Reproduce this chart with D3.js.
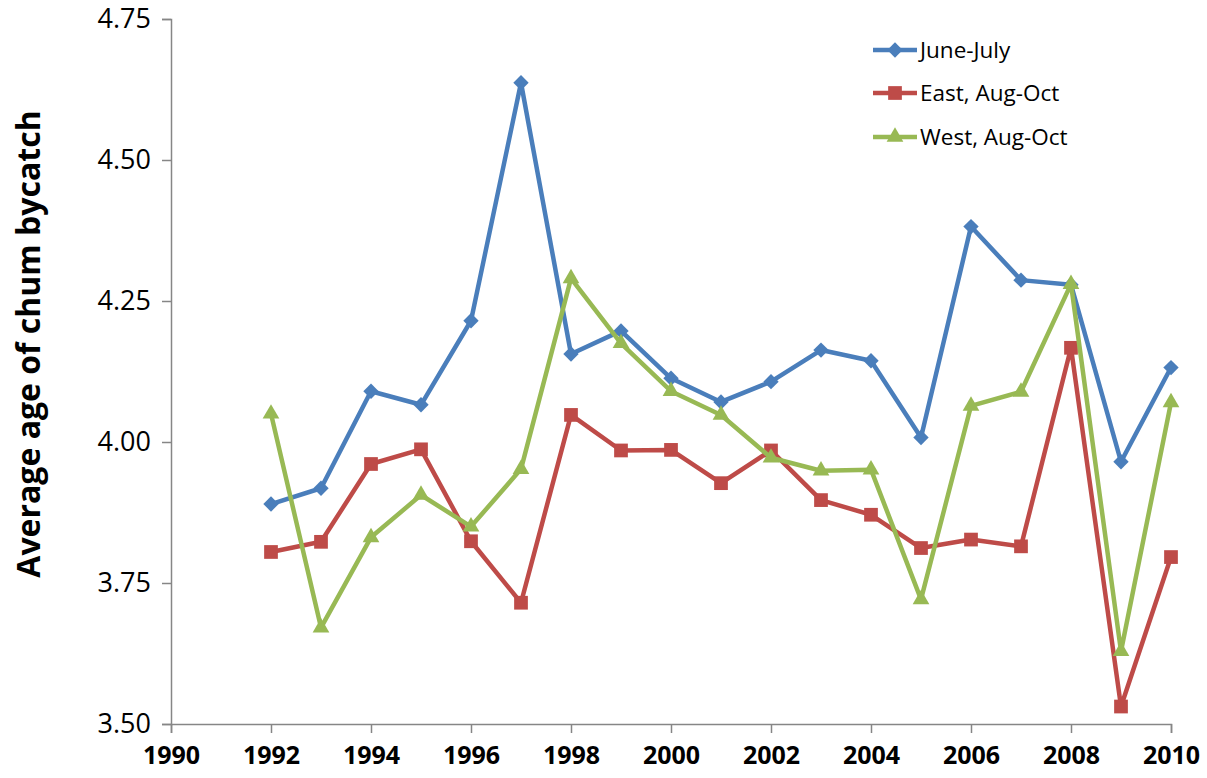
<!DOCTYPE html>
<html><head><meta charset="utf-8">
<script src="https://cdn.jsdelivr.net/npm/d3@7"></script>
<style>body{margin:0;background:#fff}svg{display:block}</style>
</head><body>
<svg id="chart" width="1207" height="778"></svg>
<script>
const years = [1992,1993,1994,1995,1996,1997,1998,1999,2000,2001,2002,2003,2004,2005,2006,2007,2008,2009,2010];
const juneJuly = [3.890,3.918,4.090,4.066,4.215,4.637,4.156,4.197,4.113,4.071,4.107,4.163,4.144,4.008,4.382,4.287,4.279,3.965,4.132];
const eastAugOct = [3.805,3.823,3.961,3.987,3.824,3.715,4.048,3.985,3.986,3.927,3.985,3.897,3.871,3.812,3.827,3.815,4.167,3.531,3.796];
const westAugOct = [4.050,3.671,3.831,3.906,3.850,3.952,4.290,4.175,4.090,4.048,3.972,3.949,3.951,3.721,4.064,4.089,4.280,3.629,4.070];
const xTicks = [1990,1992,1994,1996,1998,2000,2002,2004,2006,2008,2010];
const yTicks = [3.50,3.75,4.00,4.25,4.50,4.75];
const seriesNames = ["June-July","East, Aug-Oct","West, Aug-Oct"];
const yTitle = "Average age of chum bycatch";

const series = [
  {name: seriesNames[0], values: juneJuly, color: "#4A7EBB", marker: "diamond"},
  {name: seriesNames[1], values: eastAugOct, color: "#BE4B48", marker: "square"},
  {name: seriesNames[2], values: westAugOct, color: "#98B954", marker: "triangle"}
];

const svg = d3.select("#chart");
const font = "'Open Sans', 'Noto Sans', sans-serif";
const x = d3.scaleLinear().domain([1990, 2010]).range([171, 1171]);
const y = d3.scaleLinear().domain([3.5, 4.75]).range([724, 19]);
const axisColor = "#868686";

// Y axis
const yAxis = svg.append("g").attr("transform", "translate(171,0)")
  .call(d3.axisLeft(y).tickValues(yTicks).tickFormat(d3.format(".2f")).tickSize(9).tickPadding(11));
yAxis.select(".domain").attr("stroke", axisColor).attr("stroke-width", 1.5);
yAxis.selectAll(".tick line").attr("stroke", axisColor).attr("stroke-width", 1.5);
yAxis.selectAll(".tick text").attr("font-family", font).attr("font-size", 27).attr("fill", "#000");

// X axis
const xAxis = svg.append("g").attr("transform", "translate(0,724)")
  .call(d3.axisBottom(x).tickValues(xTicks).tickFormat(d3.format("d")).tickSize(9).tickPadding(13));
xAxis.select(".domain").attr("stroke", axisColor).attr("stroke-width", 1.5);
xAxis.selectAll(".tick line").attr("stroke", axisColor).attr("stroke-width", 1.5);
xAxis.selectAll(".tick text").attr("font-family", font).attr("font-size", 25).attr("font-weight", "bold").attr("fill", "#000");

// Y title
svg.append("text")
  .attr("transform", "translate(27,344) rotate(-90)")
  .attr("text-anchor", "middle").attr("dominant-baseline", "central")
  .attr("font-family", font).attr("font-size", 32).attr("font-weight", "bold")
  .text(yTitle);

const symbolFor = {
  diamond: d3.symbol().type(d3.symbolDiamond2).size(150),
  square: d3.symbol().type(d3.symbolSquare2).size(240),
  triangle: d3.symbol().type(d3.symbolTriangle2).size(200)
};
function markerPath(kind) {
  return symbolFor[kind]();
}

const line = d3.line().x((d, i) => x(years[i])).y(d => y(d));

series.forEach(s => {
  const g = svg.append("g");
  g.append("path").attr("d", line(s.values)).attr("fill", "none")
    .attr("stroke", s.color).attr("stroke-width", 4.5).attr("stroke-linejoin", "round");
  g.selectAll("path.m").data(s.values).enter().append("path").attr("class", "m")
    .attr("d", markerPath(s.marker))
    .attr("transform", (d, i) => `translate(${x(years[i])},${y(d)})`)
    .attr("fill", s.color);
});

// Legend
const legendY = [50, 93, 137];
series.forEach((s, i) => {
  const g = svg.append("g").attr("transform", `translate(873,${legendY[i]})`);
  g.append("line").attr("x1", 0).attr("x2", 44).attr("y1", 0).attr("y2", 0)
    .attr("stroke", s.color).attr("stroke-width", 4.5);
  g.append("path").attr("d", markerPath(s.marker)).attr("transform", "translate(22,0)").attr("fill", s.color);
  g.append("text").attr("x", 47).attr("y", 0).attr("dy", "0.35em")
    .attr("font-family", font).attr("font-size", 22.5).attr("fill", "#000").text(s.name);
});
</script>
</body></html>
